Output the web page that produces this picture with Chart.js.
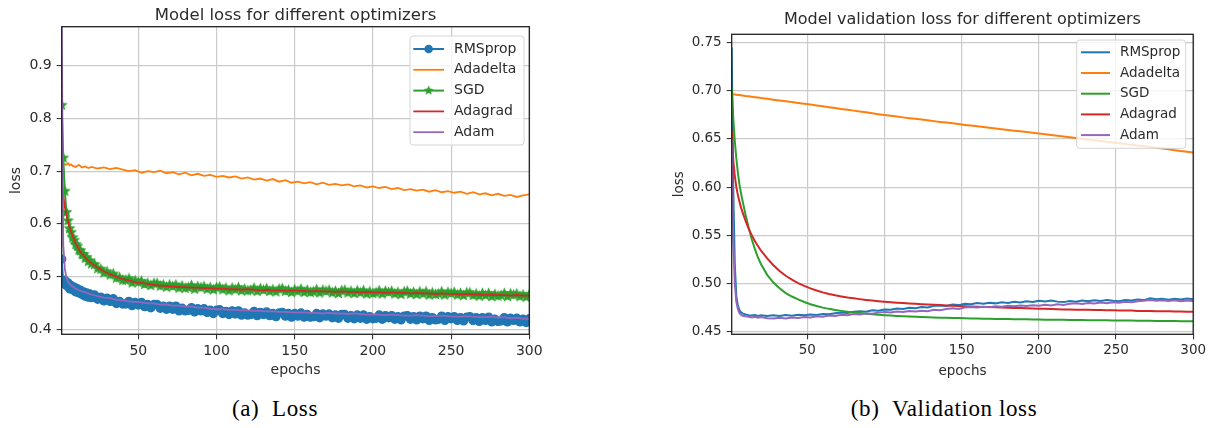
<!DOCTYPE html>
<html>
<head>
<meta charset="utf-8">
<script src="https://cdn.jsdelivr.net/npm/chart.js@4.4.1/dist/chart.umd.min.js"></script>
<style>
  html, body { margin: 0; padding: 0; background: #fff; }
  body { width: 1215px; height: 428px; position: relative; overflow: hidden; }
  .panel { position: absolute; top: 0; width: 600px; height: 395px; }
  #panel-a { left: 0; }
  #panel-b { left: 615px; }
  .caption { position: absolute; top: 396px; line-height: 26px; font-family: "Liberation Serif", serif;
             font-size: 23px; color: #000; white-space: nowrap; transform: translateX(-50%); letter-spacing: 0.6px; }
</style>
</head>
<body>
<div class="panel" id="panel-a"><canvas id="chart-a"></canvas></div>
<div class="panel" id="panel-b"><canvas id="chart-b"></canvas></div>
<div class="caption" style="left:275px">(a)&nbsp;&nbsp;Loss</div>
<div class="caption" style="left:944px">(b)&nbsp;&nbsp;Validation loss</div>
<script>
// x values (epochs) for the plain line series
const epochs = [1,2,3,4,5,6,7,8,10,12,14,16,18,20,
  24,28,32,36,40,44,48,52,56,60,64,68,72,76,80,84,88,92,96,100,
  104,108,112,116,120,124,128,132,136,140,144,148,152,156,160,164,168,172,176,180,
  184,188,192,196,200,204,208,212,216,220,224,228,232,236,240,244,248,252,256,260,
  264,268,272,276,280,284,288,292,296,300];
// denser x values for the two marker series of (a)
const epochsDense = [1,2,3,4,5,6,7,8,9,10,11,12,13,14,15,16,17,18,19,20,
  22,24,26,28,30,32,34,36,38,40,42,44,46,48,50,52,54,56,58,60,
  62,64,66,68,70,72,74,76,78,80,82,84,86,88,90,92,94,96,98,100,
  102,104,106,108,110,112,114,116,118,120,122,124,126,128,130,132,134,136,138,140,
  142,144,146,148,150,152,154,156,158,160,162,164,166,168,170,172,174,176,178,180,
  182,184,186,188,190,192,194,196,198,200,202,204,206,208,210,212,214,216,218,220,
  222,224,226,228,230,232,234,236,238,240,242,244,246,248,250,252,254,256,258,260,
  262,264,266,268,270,272,274,276,278,280,282,284,286,288,290,292,294,296,298,300];

const optimizers = ['RMSprop', 'Adadelta', 'SGD', 'Adagrad', 'Adam'];
const xTickValues = [50, 100, 150, 200, 250, 300];
const yTicksLoss = [0.4, 0.5, 0.6, 0.7, 0.8, 0.9];
const yTicksVal = [0.45, 0.50, 0.55, 0.60, 0.65, 0.70, 0.75];

// (a) training loss
const lossRMSprop = [0.533,0.488,0.493,0.483,0.488,0.477,0.483,0.475,0.480,0.471,0.477,0.469,0.474,0.466,0.471,0.463,0.469,0.461,0.467,0.460,
  0.465,0.457,0.461,0.454,0.459,0.453,0.458,0.449,0.453,0.448,
  0.448,0.453,0.445,0.451,0.446,0.451,0.443,0.447,0.441,0.447,
  0.447,0.440,0.444,0.438,0.444,0.438,0.444,0.435,0.440,0.435,
  0.436,0.441,0.433,0.439,0.435,0.439,0.432,0.436,0.430,0.436,
  0.437,0.430,0.434,0.428,0.435,0.429,0.435,0.427,0.431,0.427,
  0.428,0.434,0.426,0.432,0.428,0.433,0.426,0.430,0.424,0.431,
  0.432,0.425,0.430,0.423,0.430,0.425,0.431,0.423,0.428,0.423,
  0.424,0.430,0.422,0.429,0.425,0.429,0.422,0.427,0.421,0.428,
  0.428,0.421,0.426,0.420,0.427,0.421,0.427,0.419,0.424,0.420,
  0.421,0.427,0.419,0.426,0.422,0.426,0.419,0.424,0.418,0.425,
  0.426,0.419,0.424,0.418,0.425,0.420,0.425,0.417,0.422,0.418,
  0.419,0.425,0.417,0.424,0.420,0.424,0.417,0.422,0.416,0.423,
  0.424,0.417,0.422,0.415,0.422,0.417,0.423,0.414,0.419,0.415,
  0.416,0.422,0.414,0.421,0.417,0.421,0.414,0.419,0.413,0.420];
const lossAdadelta = [0.711,0.714,0.713,0.712,0.715,0.711,0.713,0.710,0.708,0.712,0.707,0.709,0.706,0.708,
  0.705,0.707,0.704,0.706,0.703,0.700,0.702,0.697,0.700,0.698,0.701,0.696,0.698,0.694,0.697,0.692,0.695,0.691,0.693,0.689,
  0.691,0.688,0.690,0.686,0.688,0.684,0.686,0.682,0.685,0.680,0.683,0.678,0.680,0.677,0.679,0.675,0.678,0.674,0.676,0.673,
  0.675,0.671,0.673,0.669,0.671,0.668,0.670,0.666,0.668,0.664,0.666,0.663,0.665,0.661,0.664,0.660,0.662,0.659,0.661,0.657,
  0.660,0.656,0.658,0.654,0.657,0.653,0.655,0.651,0.654,0.656];
const lossSGD = [0.825,0.725,0.662,0.622,0.606,0.591,0.584,0.574,0.569,0.561,0.558,0.550,0.549,0.542,0.542,0.535,0.536,0.529,0.530,0.524,
  0.523,0.515,0.514,0.507,0.509,0.503,0.505,0.497,0.498,0.493,
  0.493,0.496,0.488,0.492,0.489,0.491,0.485,0.487,0.483,0.487,
  0.487,0.482,0.484,0.480,0.484,0.481,0.484,0.478,0.482,0.478,
  0.479,0.483,0.476,0.481,0.479,0.481,0.476,0.479,0.475,0.479,
  0.480,0.475,0.478,0.473,0.478,0.475,0.479,0.473,0.476,0.473,
  0.474,0.478,0.472,0.477,0.474,0.477,0.472,0.475,0.471,0.476,
  0.477,0.472,0.474,0.470,0.475,0.472,0.476,0.470,0.474,0.470,
  0.471,0.475,0.469,0.474,0.472,0.474,0.469,0.472,0.468,0.473,
  0.474,0.469,0.472,0.468,0.473,0.469,0.473,0.467,0.471,0.468,
  0.469,0.473,0.467,0.472,0.470,0.472,0.467,0.470,0.466,0.471,
  0.472,0.467,0.470,0.466,0.471,0.467,0.471,0.465,0.469,0.466,
  0.467,0.471,0.465,0.470,0.468,0.470,0.465,0.468,0.464,0.469,
  0.469,0.464,0.467,0.463,0.468,0.464,0.468,0.462,0.466,0.463,
  0.464,0.468,0.462,0.467,0.465,0.467,0.462,0.465,0.461,0.466];
const lossAdagrad = [0.680,0.652,0.632,0.617,0.606,0.594,0.585,0.577,0.563,0.552,0.543,0.537,0.530,0.525,
  0.517,0.510,0.504,0.500,0.495,0.493,0.489,0.488,0.486,0.484,0.483,0.482,0.481,0.480,0.480,0.479,0.479,0.478,0.478,0.477,
  0.477,0.476,0.476,0.475,0.476,0.475,0.474,0.475,0.474,0.474,0.473,0.474,0.473,0.473,0.472,0.473,0.472,0.472,0.471,0.472,
  0.471,0.471,0.470,0.471,0.470,0.470,0.469,0.470,0.469,0.469,0.468,0.469,0.468,0.468,0.467,0.468,0.467,0.467,0.466,0.467,
  0.466,0.466,0.465,0.466,0.465,0.465,0.464,0.465,0.464,0.464];
const lossAdam = [0.990,0.560,0.515,0.498,0.490,0.486,0.483,0.481,0.477,0.474,0.472,0.470,0.468,0.466,
  0.463,0.460,0.459,0.456,0.455,0.453,0.452,0.451,0.449,0.449,0.447,0.447,0.445,0.445,0.443,0.443,0.441,0.441,0.439,0.438,
  0.438,0.437,0.437,0.436,0.436,0.435,0.435,0.434,0.434,0.433,0.433,0.432,0.432,0.432,0.431,0.431,0.430,0.431,0.430,0.430,
  0.429,0.430,0.429,0.428,0.428,0.428,0.427,0.428,0.427,0.426,0.426,0.427,0.426,0.425,0.425,0.426,0.425,0.424,0.424,0.425,
  0.424,0.423,0.423,0.424,0.422,0.423,0.421,0.422,0.420,0.420];

// (b) validation loss
const valRMSprop = [0.745,0.600,0.520,0.487,0.477,0.4725,0.4702,0.4690,0.4679,0.4672,0.4668,0.4673,0.4664,0.4670,
  0.4662,0.4671,0.4664,0.4673,0.4666,0.4676,0.4670,0.4679,0.4674,0.4684,0.4680,0.4692,0.4698,0.4693,0.4706,0.4713,0.4708,0.4722,0.4717,0.4731,
  0.4727,0.4740,0.4735,0.4748,0.4744,0.4757,0.4752,0.4768,0.4772,0.4766,0.4781,0.4776,0.4791,0.4786,0.4797,0.4790,0.4801,0.4794,0.4806,0.4799,
  0.4810,0.4803,0.4815,0.4808,0.4821,0.4813,0.4824,0.4812,0.4807,0.4818,0.4811,0.4823,0.4816,0.4827,0.4819,0.4830,0.4822,0.4817,0.4829,0.4824,
  0.4835,0.4828,0.4846,0.4838,0.4843,0.4832,0.4841,0.4834,0.4845,0.4837];
const valAdadelta = [0.6965,0.6963,0.6961,0.6959,0.6957,0.6955,0.6953,0.6951,0.6946,0.6942,0.6938,0.6934,0.6930,0.6925,
  0.6917,0.6908,0.6900,0.6891,0.6883,0.6874,0.6866,0.6857,0.6848,0.6839,0.6830,0.6821,0.6812,0.6803,0.6794,0.6785,0.6776,0.6767,0.6757,0.6748,
  0.6740,0.6732,0.6724,0.6716,0.6709,0.6701,0.6693,0.6685,0.6677,0.6670,0.6662,0.6654,0.6646,0.6639,0.6631,0.6624,0.6616,0.6609,0.6601,0.6594,
  0.6586,0.6579,0.6571,0.6564,0.6556,0.6548,0.6541,0.6533,0.6525,0.6518,0.6510,0.6502,0.6494,0.6487,0.6479,0.6471,0.6464,0.6456,0.6448,0.6440,
  0.6432,0.6424,0.6416,0.6408,0.6400,0.6392,0.6384,0.6376,0.6368,0.6360];
const valSGD = [0.704,0.672,0.648,0.630,0.615,0.603,0.594,0.586,0.571,0.558,0.546,0.536,0.527,0.520,
  0.509,0.501,0.495,0.490,0.4865,0.4835,0.4808,0.4785,0.4766,0.4750,0.4737,0.4726,0.4716,0.4707,0.4700,0.4693,0.4687,0.4681,0.4676,0.4671,
  0.4667,0.4663,0.4660,0.4657,0.4654,0.4652,0.4650,0.4648,0.4646,0.4644,0.4642,0.4641,0.4639,0.4638,0.4636,0.4635,0.4634,0.4633,0.4632,0.4631,
  0.4630,0.4629,0.4628,0.4627,0.4626,0.4625,0.4624,0.4624,0.4623,0.4622,0.4621,0.4621,0.4620,0.4619,0.4619,0.4618,0.4617,0.4617,0.4616,0.4615,
  0.4614,0.4614,0.4613,0.4612,0.4612,0.4611,0.4610,0.4609,0.4609,0.4608];
const valAdagrad = [0.660,0.628,0.612,0.600,0.592,0.585,0.579,0.574,0.565,0.557,0.550,0.544,0.539,0.534,
  0.526,0.519,0.513,0.508,0.5040,0.5005,0.4975,0.4950,0.4928,0.4908,0.4892,0.4878,0.4866,0.4855,0.4846,0.4838,0.4830,0.4823,0.4817,0.4811,
  0.4806,0.4801,0.4797,0.4793,0.4789,0.4785,0.4782,0.4779,0.4776,0.4773,0.4770,0.4767,0.4764,0.4761,0.4759,0.4757,0.4755,0.4753,0.4751,0.4749,
  0.4747,0.4745,0.4743,0.4741,0.4739,0.4737,0.4735,0.4733,0.4731,0.4730,0.4729,0.4728,0.4727,0.4725,0.4724,0.4723,0.4722,0.4721,0.4720,0.4719,
  0.4716,0.4715,0.4714,0.4713,0.4712,0.4711,0.4710,0.4709,0.4708,0.4707];
const valAdam = [0.650,0.545,0.500,0.481,0.4735,0.4695,0.4675,0.4665,0.4660,0.4655,0.4648,0.4655,0.4645,0.4652,
  0.4640,0.4637,0.4645,0.4638,0.4648,0.4643,0.4652,0.4647,0.4660,0.4655,0.4668,0.4663,0.4675,0.4671,0.4683,0.4679,0.4690,0.4686,0.4698,0.4704,
  0.4699,0.4709,0.4704,0.4714,0.4709,0.4718,0.4713,0.4728,0.4722,0.4735,0.4742,0.4736,0.4751,0.4757,0.4750,0.4760,0.4755,0.4764,0.4759,0.4768,
  0.4763,0.4771,0.4766,0.4775,0.4770,0.4779,0.4773,0.4784,0.4778,0.4789,0.4794,0.4787,0.4798,0.4792,0.4802,0.4796,0.4806,0.4800,0.4810,0.4805,
  0.4816,0.4822,0.4829,0.4820,0.4827,0.4818,0.4826,0.4815,0.4823,0.4819];

const colors = ['#1f77b4', '#ff7f0e', '#2ca02c', '#d62728', '#9467bd'];
const family = 'DejaVu Sans';
const textColor = '#2b2b2b';
const gridColor = '#cbcbcb';

function pts(xs, arr) {
  return xs.map((e, i) => ({x: e, y: arr[i]}));
}

// filled five point star, like matplotlib '*'
function starMarker(color, r) {
  const c = document.createElement('canvas');
  const s = Math.ceil(r * 2 + 2);
  c.width = s; c.height = s;
  const g = c.getContext('2d');
  g.translate(s / 2, s / 2);
  g.beginPath();
  for (let k = 0; k < 10; k++) {
    const rad = k % 2 ? r * 0.45 : r;
    const a = -Math.PI / 2 + k * Math.PI / 5;
    g.lineTo(rad * Math.cos(a), rad * Math.sin(a));
  }
  g.closePath();
  g.fillStyle = color;
  g.fill();
  return c;
}
const star = starMarker(colors[2], 6.3);
const legendStar = starMarker(colors[2], 5.2);

// black box round the plot area (matplotlib spines)
const frame = {
  id: 'frame',
  afterDatasetsDraw(chart) {
    const {ctx, chartArea: a} = chart;
    ctx.save();
    ctx.strokeStyle = '#222';
    ctx.lineWidth = 1.3;
    ctx.strokeRect(a.left, a.top, a.right - a.left, a.bottom - a.top);
    ctx.restore();
  }
};

// legend drawn inside the plot, upper right
const boxLegend = {
  id: 'boxLegend',
  afterDatasetsDraw(chart, args, o) {
    const {ctx, chartArea} = chart;
    const x = chartArea.right - o.right - o.width;
    const y = chartArea.top + o.top;
    ctx.save();
    ctx.beginPath();
    if (ctx.roundRect) ctx.roundRect(x, y, o.width, o.height, 3);
    else ctx.rect(x, y, o.width, o.height);
    ctx.fillStyle = 'rgba(255,255,255,0.8)';
    ctx.fill();
    ctx.strokeStyle = '#d4d4d4';
    ctx.lineWidth = 1;
    ctx.stroke();
    ctx.font = o.size + 'px "' + family + '"';
    ctx.textBaseline = 'middle';
    chart.data.datasets.forEach((ds, i) => {
      const cy = y + o.first + i * o.pitch;
      const hx = x + o.handleX;
      ctx.strokeStyle = ds.borderColor;
      ctx.lineWidth = ds.borderWidth;
      ctx.beginPath();
      ctx.moveTo(hx, cy);
      ctx.lineTo(hx + o.handleLen, cy);
      ctx.stroke();
      const mx = hx + o.handleLen / 2;
      if (ds.pointStyle === 'circle' && ds.pointRadius > 0) {
        ctx.fillStyle = ds.borderColor;
        ctx.beginPath();
        ctx.arc(mx, cy, 4.3, 0, Math.PI * 2);
        ctx.fill();
      } else if (ds.pointStyle === star) {
        ctx.drawImage(legendStar, mx - legendStar.width / 2, cy - legendStar.height / 2);
      }
      ctx.fillStyle = textColor;
      ctx.fillText(ds.label, x + o.textX, cy);
    });
    ctx.restore();
  }
};

function lineSet(label, i, xs, arr, extra) {
  return Object.assign({
    label: label,
    data: pts(xs, arr),
    borderColor: colors[i],
    backgroundColor: colors[i],
    borderWidth: 2,
    pointRadius: 0,
    pointHoverRadius: 0,
    fill: false,
    tension: 0,
    order: 5 - i
  }, extra || {});
}

function makeChart(id, cfg) {
  const f = cfg.fontSize;
  return new Chart(document.getElementById(id).getContext('2d'), {
    type: 'line',
    data: {datasets: cfg.datasets},
    options: {
      animation: false,
      responsive: true,
      maintainAspectRatio: false,
      devicePixelRatio: 1,
      events: [],
      layout: {autoPadding: false, padding: cfg.padding},
      plugins: {
        legend: {display: false},
        tooltip: {enabled: false},
        title: {
          display: true, text: cfg.title, color: textColor, fullSize: false,
          font: {family: family, size: cfg.titleSize, weight: 'normal'},
          padding: cfg.titlePad
        },
        boxLegend: cfg.legend
      },
      scales: {
        x: {
          type: 'linear', min: 1, max: 300,
          afterBuildTicks: s => { s.ticks = xTickValues.map(v => ({value: v})); },
          afterFit: s => { s.height = cfg.xAxisHeight; },
          grid: {color: gridColor, lineWidth: 1.2, tickColor: '#222', tickLength: 5, tickWidth: 1},
          border: {display: false},
          ticks: {color: textColor, font: {family: family, size: f}, padding: 3.5, maxRotation: 0, autoSkip: false},
          title: {display: true, text: 'epochs', color: textColor, font: {family: family, size: f}, padding: {top: 0, bottom: 0}}
        },
        y: {
          type: 'linear', min: cfg.yMin, max: cfg.yMax,
          afterBuildTicks: s => { s.ticks = cfg.yTicks.map(v => ({value: v})); },
          afterFit: s => { s.width = cfg.yAxisWidth; },
          grid: {color: gridColor, lineWidth: 1.2, tickColor: '#222', tickLength: 5, tickWidth: 1},
          border: {display: false},
          ticks: {color: textColor, font: {family: family, size: f}, padding: 5, autoSkip: false,
                  callback: v => v.toFixed(cfg.digits)},
          title: {display: true, text: 'loss', color: textColor, font: {family: family, size: f}, padding: {top: cfg.yTitlePad, bottom: 0}}
        }
      }
    },
    plugins: [frame, boxLegend]
  });
}

makeChart('chart-a', {
  title: 'Model loss for different optimizers',
  titleSize: 16.5, titlePad: {top: 6, bottom: 0.9},
  fontSize: 14,
  padding: {left: 0, right: 70.7, top: 0, bottom: 15.9},
  xAxisHeight: 44.8, yAxisWidth: 61.7, yTitlePad: 7.5,
  yMin: 0.3905, yMax: 0.974, yTicks: yTicksLoss, digits: 1,
  legend: {right: 5.3, top: 9.3, width: 114, height: 109, first: 13, pitch: 20.8,
           handleX: 3.3, handleLen: 30.7, textX: 44, size: 14},
  datasets: [
    lineSet(optimizers[0], 0, epochsDense, lossRMSprop, {pointStyle: 'circle', pointRadius: 4, pointBorderWidth: 1.4,
      pointBackgroundColor: colors[0], pointBorderColor: colors[0]}),
    lineSet(optimizers[1], 1, epochs, lossAdadelta, {borderWidth: 1.8}),
    lineSet(optimizers[2], 2, epochsDense, lossSGD, {pointStyle: star, pointRadius: 4, pointBorderWidth: 0}),
    lineSet(optimizers[3], 3, epochs, lossAdagrad, {borderWidth: 1.8}),
    lineSet(optimizers[4], 4, epochs, lossAdam, {borderWidth: 1.8})
  ]
});

makeChart('chart-b', {
  title: 'Model validation loss for different optimizers',
  titleSize: 16, titlePad: {top: 10.4, bottom: 4.7},
  fontSize: 13.5,
  padding: {left: 48, right: 21.8, top: 0, bottom: 15.9},
  xAxisHeight: 44.8, yAxisWidth: 68.7, yTitlePad: 7.9,
  yMin: 0.4473, yMax: 0.7586, yTicks: yTicksVal, digits: 2,
  legend: {right: 7.5, top: 5.7, width: 109, height: 108.3, first: 12.3, pitch: 20.7,
           handleX: 4.3, handleLen: 29, textX: 43.3, size: 13.5},
  datasets: [
    lineSet(optimizers[0], 0, epochs, valRMSprop),
    lineSet(optimizers[1], 1, epochs, valAdadelta),
    lineSet(optimizers[2], 2, epochs, valSGD),
    lineSet(optimizers[3], 3, epochs, valAdagrad),
    lineSet(optimizers[4], 4, epochs, valAdam)
  ]
});
</script>
</body>
</html>
